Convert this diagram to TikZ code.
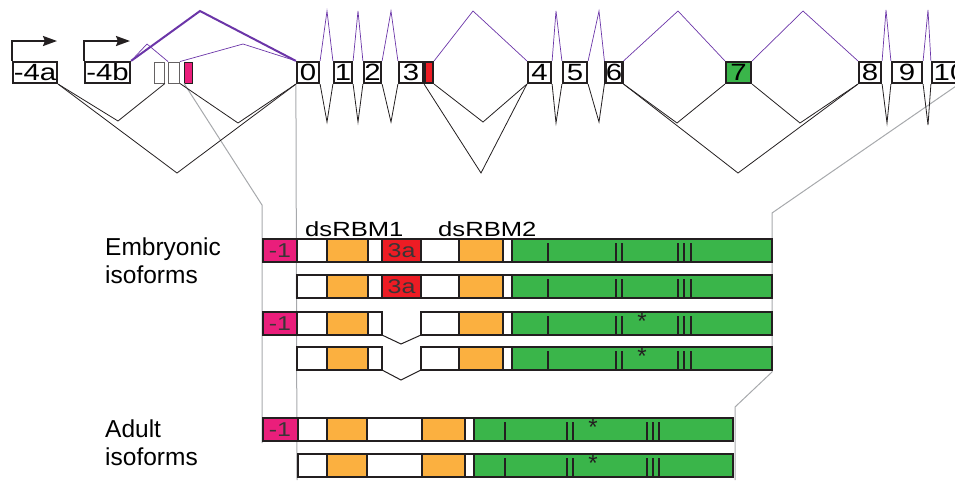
\documentclass[tikz,border=0pt]{standalone}
\usepackage{fontspec}
\setmainfont{Liberation Sans}
\newfontfamily\stretchfont[FakeStretch=1.25]{Liberation Sans}
\usetikzlibrary{arrows.meta}
\definecolor{dk}{HTML}{231F20}
\definecolor{pk}{HTML}{EA1E7B}
\definecolor{rd}{HTML}{ED1C24}
\definecolor{og}{HTML}{FBB040}
\definecolor{gn}{HTML}{3AB54A}
\definecolor{pu}{HTML}{6B35A8}
\definecolor{gy}{HTML}{A7A9AC}
\newcommand\isoseg[4]{\filldraw[fill=#4,draw=dk,line width=2pt] (#1,#3) rectangle (#2,#3+23);}
\newcommand\isotick[2]{\draw[dk,line width=1.5pt] (#1,#2+4) -- (#1,#2+23);}
\tikzset{
  exon/.style={draw=dk,line width=2.2pt,fill=white,inner sep=0pt,minimum height=21pt,
    font=\stretchfont\fontsize{23.5}{23.5}\selectfont,text=black},
  smallex/.style={draw=dk!70,line width=0.9pt,fill=white,inner sep=0pt,minimum height=21pt},
  up/.style={pu,line width=0.7pt},
  upthick/.style={pu,line width=2pt},
  down/.style={dk,line width=0.8pt},
  zoomline/.style={gy,line width=1pt},
  tss/.style={dk,line width=2pt,-{Stealth[length=14pt,width=10pt,inset=2pt]}},
  seglbl/.style={inner sep=0pt,text=dk!90,font=\stretchfont\fontsize{20}{20}\selectfont},
  domlbl/.style={anchor=base west,inner sep=0pt,font=\stretchfont\fontsize{20.5}{20.5}\selectfont},
  grplbl/.style={anchor=base west,inner sep=0pt,font=\fontsize{24.5}{28}\selectfont},
  star/.style={inner sep=0pt,font=\fontsize{24}{24}\selectfont,text=dk}
}
\begin{document}
\begin{tikzpicture}[x=1pt,y=-1pt]
\useasboundingbox (0,0) rectangle (955,480);
\clip (0,0) rectangle (955,480);

% ---- exons of the gene ----
\node[exon,minimum width=44pt] (e4a) at (35,72.5) {-4a};
\node[exon,minimum width=45pt] (e4b) at (107.5,72.5) {-4b};
\node[smallex,minimum width=10pt] (s1) at (159.5,72.5) {};
\node[smallex,minimum width=11pt] (s2) at (174,72.5) {};
\node[smallex,draw=dk,fill=pk,minimum width=8pt] (s3) at (188.5,72.5) {};
\node[exon,minimum width=22pt] (e0) at (308,72.5) {0};
\node[exon,minimum width=18pt] (e1) at (343,72.5) {1};
\node[exon,minimum width=17pt] (e2) at (372.5,72.5) {2};
\node[exon,minimum width=24pt] (e3) at (411,72.5) {3};
\node[exon,fill=rd,minimum width=8pt] (e3r) at (429,72.5) {};
\node[exon,minimum width=23pt] (e4) at (539.5,72.5) {4};
\node[exon,minimum width=24pt] (e5) at (575,72.5) {5};
\node[exon,minimum width=17pt] (e6) at (614,72.5) {6};
\node[exon,fill=gn,minimum width=25pt] (e7) at (738.5,72.5) {7};
\node[exon,minimum width=22pt] (e8) at (870,72.5) {8};
\node[exon,minimum width=30pt] (e9) at (907,72.5) {9};
\node[exon,minimum width=36pt] (e10) at (950,72.5) {10};

% ---- transcription start arrows ----
\coordinate (t4a) at (57,41);
\coordinate (t4b) at (130,41);
\draw[tss] (e4a.north west) |- (t4a);
\draw[tss] (e4b.north west) |- (t4b);

% ---- grey zoom lines ----
\coordinate (gl1) at (262,205);
\coordinate (gl2) at (262,443);
\coordinate (gm) at (297,480);
\coordinate (gr0) at (959,84);
\coordinate (gr1) at (772,213);
\coordinate (gr2) at (772,372);
\coordinate (gr3) at (735,407);
\coordinate (gr4) at (735,480);
\draw[zoomline] (s3.south west) -- (gl1) -- (gl2);
\draw[zoomline] (e0.south west) -- (gm);
\draw[zoomline] (gr0) -- (gr1) -- (gr2) -- (gr3) -- (gr4);

% ---- splicing above (purple) ----
\draw[upthick] (e4b.north east) -- (200,11) -- (e0.north west);
\draw[up] (e4b.north east) -- (147,44) -- (s2.north west);
\draw[up] (s2.north east) -- (243,44) -- (e0.north west);
\draw[up] (e0.north east) -- (327,11) -- (e1.north west);
\draw[up] (e1.north east) -- (358,11) -- (e2.north west);
\draw[up] (e2.north east) -- (391,11) -- (e3.north west);
\draw[up] (e3r.north east) -- (473,11) -- (e4.north west);
\draw[up] (e4.north east) -- (556,11) -- (e5.north west);
\draw[up] (e5.north east) -- (599,11) -- (e6.north west);
\draw[up] (e6.north east) -- (678,11) -- (e7.north west);
\draw[up] (e7.north east) -- (803,11) -- (e8.north west);
\draw[up] (e8.north east) -- (886,10) -- (e9.north west);
\draw[up] (e9.north east) -- (928,10) -- (e10.north west);

% ---- splicing below (black) ----
\draw[down] (e4a.south east) -- (177,173) -- (e0.south west);
\draw[down] (e4a.south east) -- (118,121) -- (s1.south east);
\draw[down] (s2.south east) -- (238,123) -- (e0.south west);
\draw[down] (e0.south east) -- (327,122) -- (e1.south west);
\draw[down] (e1.south east) -- (358,122) -- (e2.south west);
\draw[down] (e2.south east) -- (391,122) -- (e3.south west);
\draw[down] (e3.south east) -- (481,173) -- (e4.south west);
\draw[down] (e3r.south east) -- (483,122) -- (e4.south west);
\draw[down] (e4.south east) -- (556,123) -- (e5.south west);
\draw[down] (e5.south east) -- (599,122) -- (e6.south west);
\draw[down] (e6.south east) -- (677,123) -- (e7.south west);
\draw[down] (e6.south east) -- (738,173) -- (e8.south west);
\draw[down] (e7.south east) -- (800,123) -- (e8.south west);
\draw[down] (e8.south east) -- (887,123) -- (e9.south west);
\draw[down] (e9.south east) -- (928,125) -- (e10.south west);

% ---- labels ----
\node[domlbl] (d1) at (305,236) {dsRBM1};
\node[domlbl] (d2) at (438,236) {dsRBM2};
\node[grplbl] (g1) at (105,255) {Embryonic};
\node[grplbl] (g2) at (105,283) {isoforms};
\node[grplbl] (g3) at (105,437) {Adult};
\node[grplbl] (g4) at (105,465) {isoforms};

% ---- embryonic isoforms ----
% row 1
\isoseg{263}{297}{239}{pk}
\isoseg{297}{327}{239}{white}\isoseg{327}{368}{239}{og}\isoseg{368}{382}{239}{white}
\isoseg{382}{421}{239}{rd}
\isoseg{421}{459}{239}{white}\isoseg{459}{503}{239}{og}\isoseg{503}{512}{239}{white}
\isoseg{512}{772}{239}{gn}
\node[seglbl] (m1) at (280,251) {-1};
\node[seglbl] (a1) at (401.5,251) {3a};
% row 2
\isoseg{297}{327}{275}{white}\isoseg{327}{368}{275}{og}\isoseg{368}{382}{275}{white}
\isoseg{382}{421}{275}{rd}
\isoseg{421}{459}{275}{white}\isoseg{459}{503}{275}{og}\isoseg{503}{512}{275}{white}
\isoseg{512}{772}{275}{gn}
\node[seglbl] (a2) at (401.5,287) {3a};
% row 3
\isoseg{263}{297}{312}{pk}
\isoseg{297}{327}{312}{white}\isoseg{327}{368}{312}{og}\isoseg{368}{382}{312}{white}
\isoseg{421}{459}{312}{white}\isoseg{459}{503}{312}{og}\isoseg{503}{512}{312}{white}
\isoseg{512}{772}{312}{gn}
\node[seglbl] (m3) at (280,324) {-1};
\draw[down,line width=1pt] (382,335) -- (401,344) -- (421,335);
% row 4
\isoseg{297}{327}{347}{white}\isoseg{327}{368}{347}{og}\isoseg{368}{382}{347}{white}
\isoseg{421}{459}{347}{white}\isoseg{459}{503}{347}{og}\isoseg{503}{512}{347}{white}
\isoseg{512}{772}{347}{gn}
\draw[down,line width=1pt] (382,370) -- (401,380) -- (421,370);
% ticks embryonic
\foreach \r in {239,275,312,347}{
  \foreach \t in {548,616,622,678,684,691}{\isotick{\t}{\r}}
}
\node[star] (st3) at (642,321) {*};
\node[star] (st4) at (642,356) {*};

% ---- adult isoforms ----
\isoseg{263}{298}{418}{pk}
\foreach \r in {418,454}{
  \isoseg{298}{327}{\r}{white}\isoseg{327}{367}{\r}{og}\isoseg{367}{422}{\r}{white}
  \isoseg{422}{465}{\r}{og}\isoseg{465}{474}{\r}{white}\isoseg{474}{733}{\r}{gn}
  \foreach \t in {505,567,573,647,653,659}{\isotick{\t}{\r}}
}
\node[seglbl] (m5) at (280,430) {-1};
\node[star] (st5) at (593,427) {*};
\node[star] (st6) at (593,463) {*};
\end{tikzpicture}
\end{document}
